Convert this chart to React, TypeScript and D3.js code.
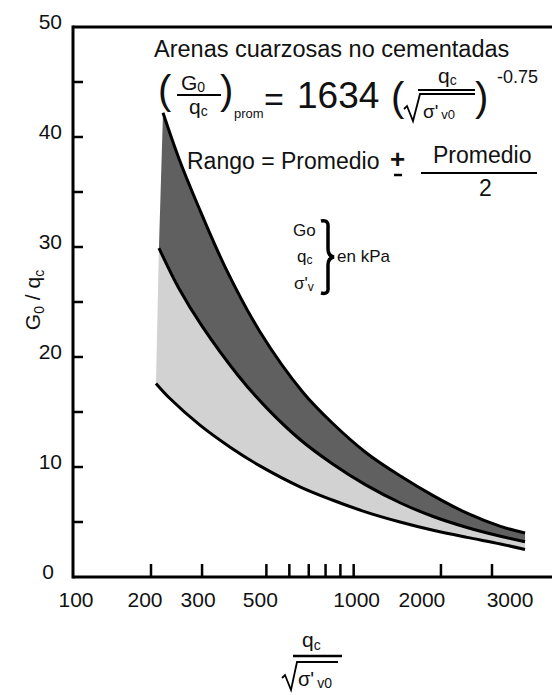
import React from "react";
import * as d3 from "d3";

// ---- data ----
// x: qc / sqrt(sigma'v0), y: G0 / qc
const upperCurve: [number, number][] = [
  [220, 42.2], [250, 38.0], [288, 34.0], [360, 28.2], [475, 22.3], [668, 16.8],
  [844, 14.0], [1104, 11.3], [1445, 9.2], [1880, 7.4], [2460, 5.8], [3210, 4.6], [3900, 4.0],
];
const meanCurve: [number, number][] = [
  [213, 29.9], [250, 26.2], [300, 22.8], [400, 18.3], [500, 15.4], [653, 12.5],
  [844, 10.3], [1104, 8.35], [1445, 6.75], [1880, 5.5], [2460, 4.5], [3210, 3.7], [3900, 3.2],
];
const lowerCurve: [number, number][] = [
  [208, 17.6], [233, 16.2], [295, 13.8], [375, 11.8], [475, 10.1], [653, 8.2],
  [844, 7.0], [1104, 5.9], [1445, 5.0], [1880, 4.25], [2460, 3.6], [3210, 3.0], [3900, 2.5],
];
const yMajorTicks = [0, 10, 20, 30, 40, 50];
const yMinorTicks = [5, 15, 25, 35, 45];
const xTickValues = [200, 300, 500, 600, 700, 800, 900, 1000, 2000, 3000];
const xLabelValues = [100, 200, 300, 500, 1000, 2000, 3000];
const xLabelTexts = ["100", "200", "300", "500", "1000", "2000", "3000"];

// ---- layout ----
const W = 552;
const H = 695;
const LEFT = 73;
const TOP = 27;
const BOTTOM = 577;
const xLabelShift = [0, -6, -4, -6, 3, -19, 18];
const FONT = "'Liberation Sans', Arial, sans-serif";
const DARK = "#606060";
const LIGHT = "#d2d2d2";

export default function App() {
  const x = d3.scaleLog().domain([200, 3000]).range([151, 492]);
  const y = d3.scaleLinear().domain([0, 50]).range([BOTTOM, TOP]);

  const line = d3
    .line<[number, number]>()
    .x((d) => x(d[0]))
    .y((d) => y(d[1]))
    .curve(d3.curveCatmullRom.alpha(0.5));

  const band = (a: [number, number][], b: [number, number][]) =>
    (line(a) as string) + "L" + (line([...b].reverse()) as string).slice(1) + "Z";

  return (
    <svg
      width={W}
      height={H}
      style={{ position: "absolute", left: 0, top: 0, background: "#fff" }}
      fontFamily={FONT}
    >
      {/* bands */}
      <path d={band(meanCurve, lowerCurve)} fill={LIGHT} stroke="none" />
      <path d={band(upperCurve, meanCurve)} fill={DARK} stroke="none" />
      {[upperCurve, meanCurve, lowerCurve].map((c, i) => (
        <path key={i} d={line(c) as string} fill="none" stroke="#000" strokeWidth={3} />
      ))}

      {/* frame */}
      <line x1={LEFT} x2={LEFT} y1={TOP - 1.5} y2={BOTTOM + 1.5} stroke="#000" strokeWidth={3} />
      <line x1={LEFT} x2={W} y1={TOP} y2={TOP} stroke="#000" strokeWidth={3} />
      <line x1={LEFT} x2={W} y1={BOTTOM} y2={BOTTOM} stroke="#000" strokeWidth={3} />

      {/* y ticks */}
      {[...yMajorTicks, ...yMinorTicks]
        .filter((v) => v > 0 && v < 50)
        .map((v) => (
          <line key={"yt" + v} x1={LEFT} x2={LEFT + 10} y1={y(v)} y2={y(v)} stroke="#000" strokeWidth={2.5} />
        ))}
      {yMajorTicks.map((v) => (
        <text key={"yl" + v} x={v === 0 ? 54 : 62} y={y(v) + 2} textAnchor="end" fontSize={21} fill="#111">
          {v}
        </text>
      ))}

      {/* x ticks */}
      {xTickValues.map((v) => (
        <line key={"xt" + v} x1={x(v)} x2={x(v)} y1={BOTTOM} y2={BOTTOM - 13} stroke="#000" strokeWidth={2.5} />
      ))}
      {xLabelValues.map((v, i) => (
        <text
          key={"xl" + v}
          x={(i === 0 ? LEFT + 3 : x(v)) + xLabelShift[i]}
          y={BOTTOM + 30}
          textAnchor="middle"
          fontSize={21}
          fill="#111"
        >
          {xLabelTexts[i]}
        </text>
      ))}

      {/* y axis title */}
      <text transform="translate(40,300) rotate(-90)" textAnchor="middle" fontSize={21} fill="#111">
        G<tspan fontSize={14} dy={4}>0</tspan>
        <tspan dy={-4}> / q</tspan>
        <tspan fontSize={14} dy={4}>c</tspan>
      </text>

      {/* x axis title */}
      <text x={302} y={647} fontSize={21} fill="#111">
        q<tspan fontSize={14} dy={3}>c</tspan>
      </text>
      <line x1={293} x2={342} y1={656} y2={656} stroke="#000" strokeWidth={2.5} />
      <path d="M282,678 L285,675 L291,690 L297,662 L338,662" fill="none" stroke="#000" strokeWidth={1.8} />
      <text x={298} y={686} fontSize={20} fill="#111">
        σ'<tspan fontSize={14} dx={3} dy={2}>v0</tspan>
      </text>

      {/* annotation */}
      <text x={154} y={57} fontSize={23.5} fill="#111">
        Arenas cuarzosas no cementadas
      </text>
      <text x={158} y={104} fontSize={40} fill="#111">(</text>
      <text x={181} y={90} fontSize={21} fill="#111">
        G<tspan fontSize={14} dy={2}>0</tspan>
      </text>
      <line x1={177} x2={221} y1={95} y2={95} stroke="#000" strokeWidth={2.2} />
      <text x={189} y={114} fontSize={21} fill="#111">
        q<tspan fontSize={14} dy={2}>c</tspan>
      </text>
      <text x={220} y={104} fontSize={40} fill="#111">)</text>
      <text x={234} y={118} fontSize={13} fill="#111">prom</text>
      <text x={264} y={111} fontSize={34} fill="#111">=</text>
      <text x={297} y={108} fontSize={37} fill="#111">1634</text>
      <text x={391} y={111} fontSize={40} fill="#111">(</text>
      <text x={438} y={83} fontSize={21} fill="#111">
        q<tspan fontSize={14} dy={2}>c</tspan>
      </text>
      <line x1={418} x2={475} y1={90} y2={90} stroke="#000" strokeWidth={2.2} />
      <path d="M404,109 L407,106 L413,121 L420,94 L475,94" fill="none" stroke="#000" strokeWidth={1.8} />
      <text x={423} y={118} fontSize={19} fill="#111">
        σ'<tspan fontSize={13} dx={3} dy={1}>v0</tspan>
      </text>
      <text x={475} y={111} fontSize={40} fill="#111">)</text>
      <text x={497} y={83} fontSize={18} fill="#111">-0.75</text>

      <text x={187} y={169} fontSize={23} fill="#111">
        Rango = Promedio
      </text>
      <text x={390} y={168} fontSize={26} fontWeight="bold" fill="#111">+</text>
      <line x1={394} x2={402} y1={175} y2={175} stroke="#000" strokeWidth={2.5} />
      <text x={433} y={163} fontSize={23} fill="#111">Promedio</text>
      <line x1={421} x2={537} y1={173} y2={173} stroke="#000" strokeWidth={2.2} />
      <text x={479} y={196} fontSize={23} fill="#111">2</text>

      {/* units legend */}
      <text x={293} y={236} fontSize={17} fill="#111">Go</text>
      <text x={297} y={262} fontSize={17} fill="#111">
        q<tspan fontSize={12} dy={2}>c</tspan>
      </text>
      <text x={294} y={289} fontSize={17} fill="#111">
        σ'<tspan fontSize={12} dy={2}>v</tspan>
      </text>
      <path
        d="M321,221 Q329,219 328,228 L328,249 Q328,256 334,257 Q328,258 328,265 L328,287 Q329,295 321,293"
        fill="none"
        stroke="#000"
        strokeWidth={3.5}
      />
      <text x={337} y={262} fontSize={17} fill="#111">en kPa</text>
    </svg>
  );
}
